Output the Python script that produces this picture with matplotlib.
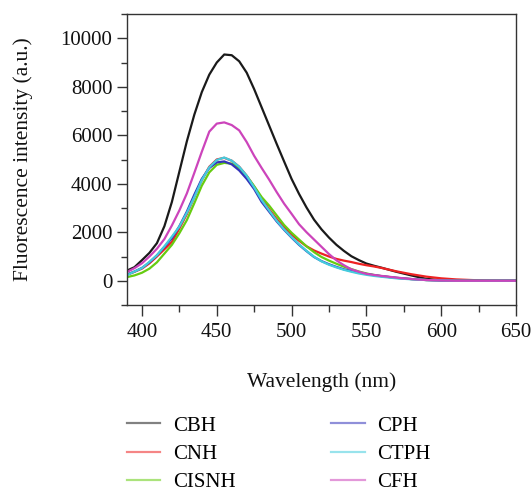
import numpy as np
import matplotlib
matplotlib.use('Agg')
import matplotlib.pyplot as plt
from matplotlib.ticker import MultipleLocator

# Emission spectra
wavelength = [390, 395, 400, 405, 410, 415, 420, 425, 430, 435, 440, 445, 450, 455,
              460, 465, 470, 475, 480, 485, 490, 495, 500, 505, 510, 515, 520, 525,
              530, 535, 540, 545, 550, 555, 560, 570, 580, 590, 600, 610, 620, 630,
              640, 650]

cbh = [420, 560, 850, 1150, 1550, 2250, 3250, 4500, 5750, 6850, 7780, 8500, 9000, 9330,
       9300, 9050, 8580, 7900, 7150, 6400, 5650, 4920, 4200, 3580, 3020, 2520, 2120, 1780,
       1480, 1230, 1010, 850, 710, 620, 540, 370, 220, 80, 20, 5, 0, 0,
       0, 0]
cnh = [250, 370, 500, 720, 1000, 1300, 1600, 2150, 2750, 3450, 4150, 4700, 5000, 5070,
       4950, 4700, 4330, 3880, 3400, 2950, 2550, 2200, 1900, 1650, 1420, 1250, 1120, 1000,
       900, 830, 770, 700, 640, 590, 530, 390, 270, 170, 100, 55, 30, 10,
       0, 0]
cisnh = [150, 220, 330, 500, 760, 1120, 1480, 1960, 2500, 3200, 3920, 4470, 4780, 4860,
         4830, 4650, 4320, 3900, 3450, 3100, 2700, 2300, 1980, 1700, 1420, 1180, 980, 830,
         700, 580, 480, 380, 300, 240, 190, 120, 70, 30, 10, 0, 0, 0,
         0, 0]
cph = [250, 380, 530, 760, 1050, 1400, 1750, 2250, 2850, 3550, 4200, 4650, 4880, 4920,
       4800, 4550, 4200, 3780, 3250, 2850, 2450, 2100, 1780, 1480, 1220, 980, 810, 680,
       570, 470, 400, 330, 280, 230, 190, 120, 70, 30, 10, 0, 0, 0,
       0, 0]
ctph = [230, 380, 520, 780, 1050, 1420, 1820, 2230, 2800, 3450, 4150, 4680, 4980, 5080,
        4950, 4700, 4330, 3850, 3330, 2900, 2480, 2120, 1800, 1500, 1230, 990, 800, 660,
        550, 450, 370, 300, 245, 200, 165, 100, 60, 30, 10, 0, 0, 0,
        0, 0]
cfh = [360, 520, 720, 1000, 1320, 1720, 2280, 2900, 3600, 4450, 5320, 6150, 6480, 6530,
       6420, 6200, 5720, 5150, 4650, 4170, 3660, 3180, 2760, 2330, 2000, 1700, 1400, 1100,
       840, 640, 470, 370, 285, 240, 200, 130, 70, 30, 10, 0, 0, 0,
       0, 0]

series = [
    ('CBH', cbh, '#1a1a1a'),
    ('CNH', cnh, '#ee2222'),
    ('CISNH', cisnh, '#66cc11'),
    ('CPH', cph, '#3333bb'),
    ('CTPH', ctph, '#44ccdd'),
    ('CFH', cfh, '#cc44bb'),
]

plt.rcParams['font.family'] = ['Liberation Serif', 'DejaVu Serif']

fig = plt.figure(figsize=(5.31, 4.87), dpi=100)
ax = fig.add_axes([127/531, 1-305/487, (516-127)/531, (305-14)/487])

for name, vals, col in series:
    ax.plot(wavelength, vals, color=col, lw=1.6, label=name)

ax.set_xlim(390, 650)
ax.set_ylim(-1000, 11000)
ax.set_xticks([400, 450, 500, 550, 600, 650])
ax.set_yticks([0, 2000, 4000, 6000, 8000, 10000])
ax.xaxis.set_minor_locator(MultipleLocator(25))
ax.yaxis.set_minor_locator(MultipleLocator(1000))
ax.tick_params(which='major', direction='out', length=7, width=1, labelsize=15,
               colors='#333333', labelcolor='#111111')
ax.tick_params(which='minor', direction='out', length=4, width=1, colors='#333333')
ax.tick_params(axis='x', which='major', length=8, pad=5)
ax.tick_params(axis='x', which='minor', length=5)
for sp in ax.spines.values():
    sp.set_color('#333333')
    sp.set_linewidth(1.0)

ax.set_xlabel('Wavelength (nm)', fontsize=15.5, labelpad=22, color='#111111')
ax.set_ylabel('Fluorescence intensity (a.u.)', fontsize=15.5, labelpad=20, color='#111111')

leg = fig.legend(loc='upper left', bbox_to_anchor=(127/531, 1-416/487), ncol=2,
                 frameon=False, fontsize=15, handlelength=1.6, handletextpad=0.6,
                 columnspacing=4.6, labelspacing=0.42, borderpad=0, borderaxespad=0)
for line in leg.get_lines():
    line.set_alpha(0.55)
    line.set_linewidth(1.6)

fig.savefig('out.png', dpi=100)
